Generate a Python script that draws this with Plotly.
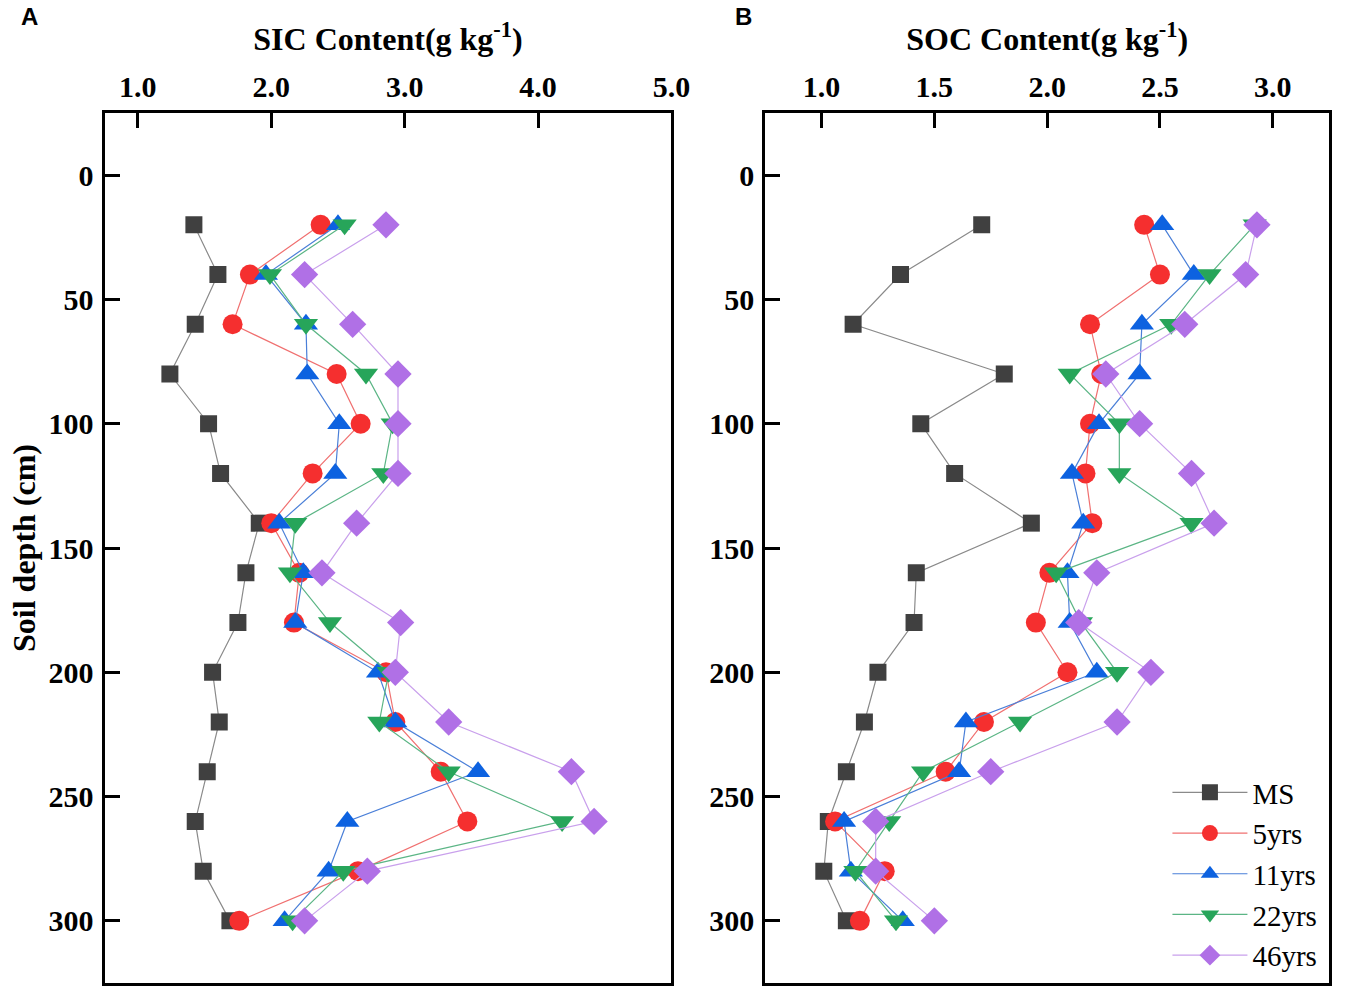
import plotly.graph_objects as go

depth = [20, 40, 60, 80, 100, 120, 140, 160, 180, 200, 220, 240, 260, 280, 300]
series_names = ["MS", "5yrs", "11yrs", "22yrs", "46yrs"]

sic_ms = [1.42, 1.60, 1.43, 1.24, 1.53, 1.62, 1.91, 1.81, 1.75, 1.56, 1.61, 1.52, 1.43, 1.49, 1.69]
sic_5 = [2.37, 1.84, 1.71, 2.49, 2.67, 2.31, 2.00, 2.21, 2.17, 2.86, 2.93, 3.27, 3.47, 2.65, 1.76]
sic_11 = [2.50, 1.96, 2.26, 2.27, 2.51, 2.48, 2.06, 2.24, 2.18, 2.80, 2.93, 3.55, 2.57, 2.43, 2.10]
sic_22 = [2.55, 1.99, 2.26, 2.71, 2.91, 2.84, 2.18, 2.14, 2.44, 2.88, 2.81, 3.33, 4.18, 2.54, 2.16]
sic_46 = [2.86, 2.25, 2.61, 2.95, 2.95, 2.95, 2.64, 2.38, 2.97, 2.93, 3.33, 4.25, 4.42, 2.72, 2.25]

soc_ms = [1.71, 1.35, 1.14, 1.81, 1.44, 1.59, 1.93, 1.42, 1.41, 1.25, 1.19, 1.11, 1.03, 1.01, 1.11]
soc_5 = [2.43, 2.50, 2.19, 2.24, 2.19, 2.17, 2.20, 2.01, 1.95, 2.09, 1.72, 1.55, 1.06, 1.28, 1.17]
soc_11 = [2.51, 2.65, 2.42, 2.41, 2.23, 2.11, 2.16, 2.09, 2.10, 2.22, 1.64, 1.61, 1.10, 1.13, 1.36]
soc_22 = [2.92, 2.72, 2.55, 2.10, 2.32, 2.32, 2.64, 2.04, 2.15, 2.31, 1.88, 1.45, 1.30, 1.15, 1.33]
soc_46 = [2.93, 2.88, 2.61, 2.26, 2.41, 2.64, 2.74, 2.22, 2.14, 2.46, 2.31, 1.75, 1.24, 1.24, 1.50]

sic_ticks = [1.0, 2.0, 3.0, 4.0, 5.0]
soc_ticks = [1.0, 1.5, 2.0, 2.5, 3.0]
depth_ticks = [0, 50, 100, 150, 200, 250, 300]

sic_data = [sic_ms, sic_5, sic_11, sic_22, sic_46]
soc_data = [soc_ms, soc_5, soc_11, soc_22, soc_46]

marker_colors = ["#404040", "#F52F2F", "#0D62E0", "#27A55A", "#B070E6"]
line_colors = ["#8A8A8A", "#F07070", "#4A7FD8", "#5BB585", "#C9A0EC"]
symbols = ["square", "circle", "triangle-up", "triangle-down", "diamond"]
sizes = [17, 20, 21, 21, 21]

serif = "Liberation Serif"

fig = go.Figure()

for i, name in enumerate(series_names):
    fig.add_trace(go.Scatter(
        x=sic_data[i], y=depth, mode="lines+markers", name=name,
        legendgroup=name, showlegend=False,
        line=dict(color=line_colors[i], width=1.2),
        marker=dict(symbol=symbols[i], size=sizes[i], color=marker_colors[i], line=dict(width=0)),
        xaxis="x", yaxis="y",
    ))

for i, name in enumerate(series_names):
    fig.add_trace(go.Scatter(
        x=soc_data[i], y=depth, mode="lines+markers", name=name,
        legendgroup=name, showlegend=True,
        line=dict(color=line_colors[i], width=1.2),
        marker=dict(symbol=symbols[i], size=sizes[i], color=marker_colors[i], line=dict(width=0)),
        xaxis="x2", yaxis="y2",
    ))

W, H = 1358, 997


def px(v):
    return v / W


def py(v):
    return 1 - v / H


left_dom = [px(106), px(681)]
right_dom = [px(776), px(1348)]
y_dom = [py(983), py(113)]

tick_font = dict(family=serif, size=30, color="black", weight="bold")
title_font = dict(family=serif, size=32, color="black", weight="bold")

common_x = dict(side="top", ticks="inside", ticklen=15, tickwidth=3, tickcolor="black",
                showline=True, linewidth=3, linecolor="black", mirror=True,
                showgrid=False, zeroline=False, tickfont=tick_font, ticklabelstandoff=1)
common_y = dict(ticks="inside", ticklen=15, tickwidth=3, tickcolor="black",
                showline=True, linewidth=3, linecolor="black", mirror=True,
                showgrid=False, zeroline=False, tickfont=tick_font,
                range=[325, -25], tickvals=depth_ticks, ticklabelstandoff=2)

fig.update_layout(
    width=W, height=H,
    margin=dict(l=0, r=0, t=0, b=0),
    paper_bgcolor="white", plot_bgcolor="white",
    showlegend=True,
    xaxis=dict(domain=left_dom, anchor="y", range=[0.75, 5.0], tickvals=sic_ticks,
               ticktext=["1.0", "2.0", "3.0", "4.0", "5.0"],
               title=dict(text="SIC Content(g kg<sup>-1</sup>)", font=title_font, standoff=10),
               **common_x),
    yaxis=dict(domain=y_dom, anchor="x",
               title=dict(text="Soil depth (cm)", font=title_font, standoff=4),
               **common_y),
    xaxis2=dict(domain=right_dom, anchor="y2", range=[0.75, 3.25], tickvals=soc_ticks,
                ticktext=["1.0", "1.5", "2.0", "2.5", "3.0"],
                title=dict(text="SOC Content(g kg<sup>-1</sup>)", font=title_font, standoff=10),
                **common_x),
    yaxis2=dict(domain=y_dom, anchor="x2", **common_y),
    legend=dict(x=px(1184), xanchor="left", y=py(767), yanchor="top",
                bgcolor="rgba(0,0,0,0)", borderwidth=0,
                font=dict(family=serif, size=29, color="black"),
                tracegroupgap=0, itemwidth=75),
    annotations=[
        dict(text="<b>A</b>", x=px(19), y=py(16), xref="paper", yref="paper",
             xanchor="left", yanchor="middle", showarrow=False,
             font=dict(family="Liberation Sans", size=24, color="black")),
        dict(text="<b>B</b>", x=px(743), y=py(16), xref="paper", yref="paper",
             xanchor="left", yanchor="middle", showarrow=False,
             font=dict(family="Liberation Sans", size=24, color="black")),
    ],
)

post = (
    "document.documentElement.style.margin='0';"
    "document.body.style.margin='0';"
    "document.body.style.padding='0';"
    "document.body.style.overflow='hidden';"
)

fig.write_html("out.html", config={"displayModeBar": False}, post_script=post)
